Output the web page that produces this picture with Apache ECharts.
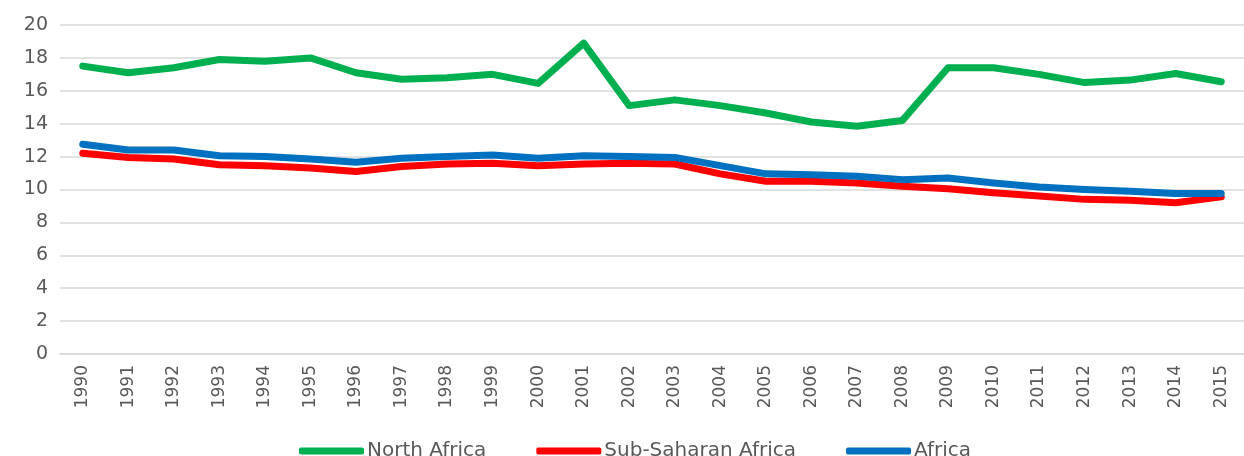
<!DOCTYPE html>
<html>
<head>
<meta charset="utf-8">
<script src="https://cdn.jsdelivr.net/npm/echarts@6/dist/echarts.min.js"></script>
<style>
	html, body { margin: 0; padding: 0; background: #fff; }
	#chart { width: 1244px; height: 456px; }
</style>
</head>
<body>
<div id="chart"></div>
<script>
	const years = ['1990', '1991', '1992', '1993', '1994', '1995', '1996', '1997', '1998', '1999', '2000', '2001', '2002',
		'2003', '2004', '2005', '2006', '2007', '2008', '2009', '2010', '2011', '2012', '2013', '2014', '2015'];
	const northAfrica = [17.5, 17.1, 17.4, 17.9, 17.8, 18.0, 17.1, 16.7, 16.8, 17.0, 16.45, 18.9, 15.1,
		15.45, 15.1, 14.65, 14.1, 13.85, 14.2, 17.4, 17.4, 17.0, 16.5, 16.65, 17.05, 16.55];
	const subSaharan = [12.2, 11.95, 11.85, 11.5, 11.45, 11.3, 11.1, 11.4, 11.55, 11.6, 11.45, 11.55, 11.6,
		11.55, 10.95, 10.5, 10.5, 10.4, 10.2, 10.05, 9.8, 9.6, 9.4, 9.35, 9.2, 9.55];
	const africa = [12.75, 12.4, 12.4, 12.05, 12.0, 11.85, 11.65, 11.9, 12.0, 12.1, 11.9, 12.05, 12.0,
		11.95, 11.45, 10.95, 10.9, 10.8, 10.6, 10.7, 10.4, 10.15, 10.0, 9.9, 9.75, 9.75];

	const font = 'DejaVu Sans';
	const textColor = '#595959';

	let myChart = echarts.init(document.getElementById('chart'));
	const option = {
		animation: false,
		color: ['#00B050', '#FF0000', '#0070C0'],
		grid: {
			left: 60,
			top: 25,
			width: 1196,
			height: 329
		},
		legend: {
			left: 294,
			top: 436,
			icon: 'roundRect',
			itemWidth: 65,
			itemHeight: 7,
			itemGap: 50,
			textStyle: {
				fontFamily: font,
				fontSize: 20,
				color: textColor,
				padding: [0, 0, 0, -2]
			},
			data: ['North Africa', 'Sub-Saharan Africa', 'Africa']
		},
		xAxis: {
			type: 'category',
			boundaryGap: true,
			data: years,
			axisLine: { lineStyle: { color: '#d9d9d9', width: 1.5 } },
			axisTick: { show: false },
			axisLabel: {
				rotate: 90,
				margin: 11,
				fontFamily: font,
				fontSize: 17,
				color: textColor
			}
		},
		yAxis: {
			type: 'value',
			min: 0,
			max: 20,
			interval: 2,
			axisLine: { show: false },
			axisTick: { show: false },
			axisLabel: {
				margin: 12,
				fontFamily: font,
				fontSize: 19,
				color: textColor
			},
			splitLine: { lineStyle: { color: '#d9d9d9', width: 1.5 } }
		},
		series: [{
				name: 'North Africa',
				type: 'line',
				data: northAfrica,
				showSymbol: false,
				lineStyle: { width: 7, cap: 'round', join: 'round' }
			},
			{
				name: 'Sub-Saharan Africa',
				type: 'line',
				data: subSaharan,
				showSymbol: false,
				lineStyle: { width: 7, cap: 'round', join: 'round' }
			},
			{
				name: 'Africa',
				type: 'line',
				data: africa,
				showSymbol: false,
				lineStyle: { width: 7, cap: 'round', join: 'round' }
			}
		]
	};
	myChart.setOption(option);
</script>
</body>
</html>
